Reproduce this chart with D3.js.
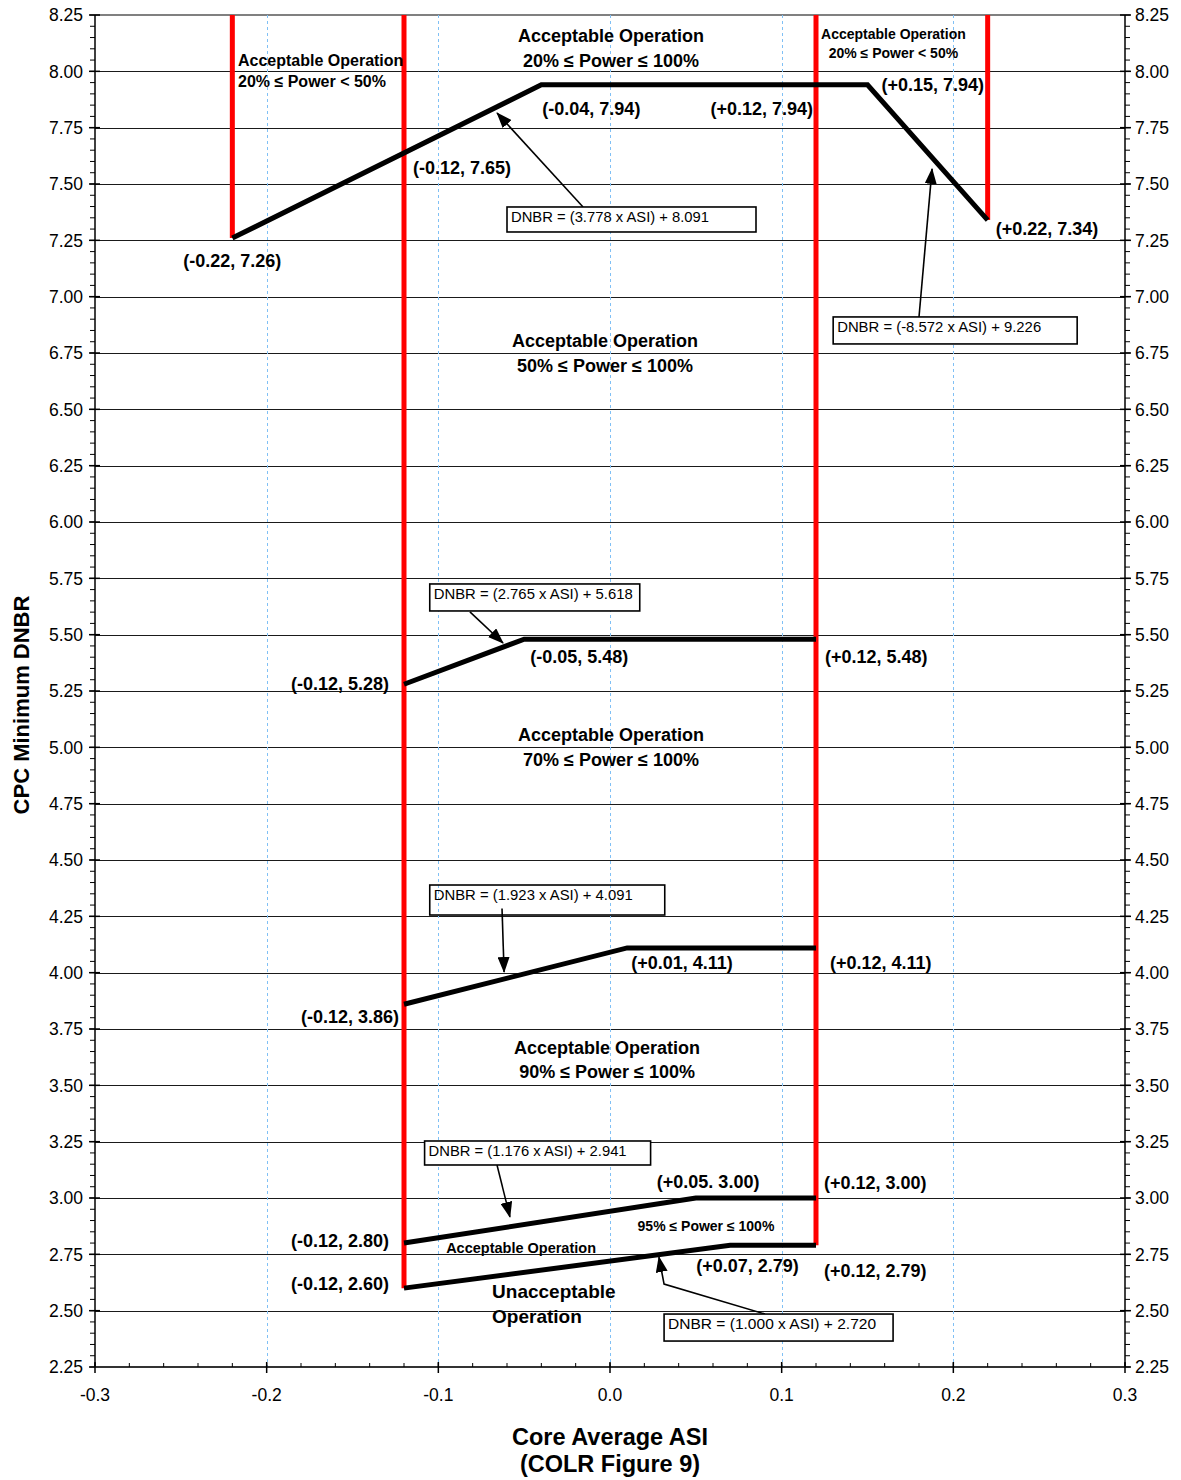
<!DOCTYPE html>
<html><head><meta charset="utf-8">
<script src="https://cdn.jsdelivr.net/npm/d3@7"></script>
<style>
html,body{margin:0;padding:0;background:#fff;}
svg{display:block;font-family:"Liberation Sans",Arial,Helvetica,sans-serif;}
</style></head>
<body><svg id="chart" width="1181" height="1480"></svg>
<script>
// ---------------- DATA ----------------
const asiTicks = [-0.3, -0.2, -0.1, 0.0, 0.1, 0.2, 0.3];
const asiTickLabels = ["-0.3", "-0.2", "-0.1", "0.0", "0.1", "0.2", "0.3"];
const dnbrTicks = [2.25,2.50,2.75,3.00,3.25,3.50,3.75,4.00,4.25,4.50,4.75,5.00,5.25,5.50,5.75,6.00,6.25,6.50,6.75,7.00,7.25,7.50,7.75,8.00,8.25];
const dnbrTickLabels = ["2.25","2.50","2.75","3.00","3.25","3.50","3.75","4.00","4.25","4.50","4.75","5.00","5.25","5.50","5.75","6.00","6.25","6.50","6.75","7.00","7.25","7.50","7.75","8.00","8.25"];

// Limit lines (ASI, DNBR)
const limit20to100 = [[-0.22, 7.26], [-0.04, 7.94], [0.15, 7.94], [0.22, 7.34]];
const limit50to100 = [[-0.12, 5.28], [-0.05, 5.48], [0.12, 5.48]];
const limit70to100 = [[-0.12, 3.86], [0.01, 4.11], [0.12, 4.11]];
const limit90to100 = [[-0.12, 2.80], [0.05, 3.00], [0.12, 3.00]];
const limit95to100 = [[-0.12, 2.60], [0.07, 2.79], [0.12, 2.79]];

// ASI boundaries (ASI, lower DNBR), extended to top of chart
const asiBoundaries = [[-0.22, 7.26], [-0.12, 2.60], [0.12, 2.79], [0.22, 7.34]];

// Point labels
const pointLabelText = ["(-0.22, 7.26)","(-0.12, 7.65)","(-0.04, 7.94)","(+0.12, 7.94)","(+0.15, 7.94)","(+0.22, 7.34)",
  "(-0.12, 5.28)","(-0.05, 5.48)","(+0.12, 5.48)",
  "(-0.12, 3.86)","(+0.01, 4.11)","(+0.12, 4.11)",
  "(+0.05. 3.00)","(+0.12, 3.00)","(-0.12, 2.80)",
  "(+0.07, 2.79)","(+0.12, 2.79)","(-0.12, 2.60)"];
const pointLabelAt = [[-0.22,7.26],[-0.12,7.65],[-0.04,7.94],[0.12,7.94],[0.15,7.94],[0.22,7.34],
  [-0.12,5.28],[-0.05,5.48],[0.12,5.48],
  [-0.12,3.86],[0.01,4.11],[0.12,4.11],
  [0.05,3.00],[0.12,3.00],[-0.12,2.80],
  [0.07,2.79],[0.12,2.79],[-0.12,2.60]];

// Equations
const equationText = ["DNBR = (3.778 x ASI) + 8.091","DNBR = (-8.572 x ASI) + 9.226","DNBR = (2.765 x ASI) + 5.618",
  "DNBR = (1.923 x ASI) + 4.091","DNBR = (1.176 x ASI) + 2.941","DNBR = (1.000 x ASI) + 2.720"];

// Region labels
const regionText = [
  ["Acceptable Operation","20% \u2264 Power \u2264 100%"],
  ["Acceptable Operation","20% \u2264 Power < 50%"],
  ["Acceptable Operation","20% \u2264 Power < 50%"],
  ["Acceptable Operation","50% \u2264 Power \u2264 100%"],
  ["Acceptable Operation","70% \u2264 Power \u2264 100%"],
  ["Acceptable Operation","90% \u2264 Power \u2264 100%"],
  ["95% \u2264 Power \u2264 100%"],
  ["Acceptable Operation"],
  ["Unacceptable","Operation"]
];

const xTitle = ["Core Average ASI", "(COLR Figure 9)"];
const yTitle = "CPC Minimum DNBR";

// ---------------- LAYOUT ----------------
const plot = {left: 95, right: 1125, top: 15, bottom: 1367};
const svg = d3.select("#chart");
const x = d3.scaleLinear().domain([-0.3, 0.3]).range([plot.left, plot.right]);
const y = d3.scaleLinear().domain([2.25, 8.25]).range([plot.bottom, plot.top]);

// label offsets (px) relative to anchor point
const pointLabelLayout = [
  {dx:0,dy:29,a:"middle"},{dx:9,dy:24,a:"start"},{dx:1,dy:30,a:"start"},{dx:-3,dy:30,a:"end"},{dx:14,dy:6,a:"start"},{dx:8,dy:15,a:"start"},
  {dx:-15,dy:6,a:"end"},{dx:6,dy:24,a:"start"},{dx:9,dy:24,a:"start"},
  {dx:-5,dy:19,a:"end"},{dx:4,dy:21,a:"start"},{dx:14,dy:21,a:"start"},
  {dx:-39,dy:-10,a:"start"},{dx:8,dy:-9,a:"start"},{dx:-15,dy:4,a:"end"},
  {dx:-34,dy:27,a:"start"},{dx:8,dy:32,a:"start"},{dx:-15,dy:2,a:"end"}
];
// equation boxes: top-left anchor in data units, sizes in px, arrow path in data units
const equationLayout = [
  {asi:-0.060, dnbr:7.398, w:249, h:25, tl:198, arrow:[[-0.0157,7.398],[-0.0658,7.815]]},
  {asi:0.130, dnbr:6.910, w:244, h:27, tl:204, arrow:[[0.180,6.910],[0.1876,7.567]]},
  {asi:-0.105, dnbr:5.725, w:210, h:27, tl:199, arrow:[[-0.0816,5.601],[-0.0623,5.463]]},
  {asi:-0.105, dnbr:4.389, w:235, h:30, tl:199, arrow:[[-0.0629,4.285],[-0.0617,4.003]]},
  {asi:-0.108, dnbr:3.253, w:226, h:24, tl:198, arrow:[[-0.0658,3.146],[-0.0583,2.916]]},
  {asi:0.0315, dnbr:2.485, w:229, h:27, tl:208, arrow:[[0.0903,2.485],[0.0315,2.618],[0.0285,2.738]]}
];
const regionLayout = [
  {asi:0.0006, dnbr:8.130, a:"middle", size:18, gap:25},
  {asi:-0.2167, dnbr:8.024, a:"start", size:16, gap:21},
  {asi:0.1651, dnbr:8.144, a:"middle", size:14, gap:19},
  {asi:-0.0029, dnbr:6.777, a:"middle", size:18, gap:25},
  {asi:0.0006, dnbr:5.028, a:"middle", size:18, gap:25},
  {asi:-0.0017, dnbr:3.639, a:"middle", size:18, gap:24},
  {asi:0.0559, dnbr:2.854, a:"middle", size:14, gap:0},
  {asi:-0.0518, dnbr:2.756, a:"middle", size:14.5, gap:0},
  {asi:-0.0687, dnbr:2.556, a:"start", size:19, gap:25}
];

// ---------------- DRAW ----------------
// horizontal gridlines
svg.append("g").selectAll("line").data(dnbrTicks.filter(v => v > 2.25 && v < 8.25)).join("line")
  .attr("x1", plot.left).attr("x2", plot.right)
  .attr("y1", d => Math.round(y(d)) + 0.5).attr("y2", d => Math.round(y(d)) + 0.5)
  .attr("stroke", "#1a1a1a").attr("stroke-width", 1);
// top border
svg.append("line").attr("x1", plot.left).attr("x2", plot.right)
  .attr("y1", y(8.25)).attr("y2", y(8.25)).attr("stroke", "#808080").attr("stroke-width", 2);
// vertical dashed gridlines
svg.append("g").selectAll("line").data(asiTicks.filter(v => Math.abs(v) < 0.29)).join("line")
  .attr("x1", d => Math.round(x(d)) + 0.5).attr("x2", d => Math.round(x(d)) + 0.5)
  .attr("y1", plot.top).attr("y2", plot.bottom)
  .attr("stroke", "#80c0f5").attr("stroke-width", 1).attr("stroke-dasharray", "3,3");

// axes
const minorY = d3.range(2.25, 8.2501, 0.05);
const minorX = d3.range(-0.3, 0.3001, 0.02);
const axG = svg.append("g").attr("stroke", "#000");
// left axis
axG.append("line").attr("x1", plot.left).attr("x2", plot.left).attr("y1", plot.top).attr("y2", plot.bottom).attr("stroke-width", 1.5);
axG.selectAll(".lmin").data(minorY).join("line").attr("x1", plot.left - 5).attr("x2", plot.left)
  .attr("y1", d => y(d)).attr("y2", d => y(d)).attr("stroke-width", 1);
axG.selectAll(".lmaj").data(dnbrTicks).join("line").attr("x1", plot.left - 6).attr("x2", plot.left + 5)
  .attr("y1", d => y(d)).attr("y2", d => y(d)).attr("stroke-width", 1.5);
// right axis
axG.append("line").attr("x1", plot.right).attr("x2", plot.right).attr("y1", plot.top).attr("y2", plot.bottom).attr("stroke-width", 1.5);
axG.selectAll(".rmin").data(minorY).join("line").attr("x1", plot.right).attr("x2", plot.right + 5)
  .attr("y1", d => y(d)).attr("y2", d => y(d)).attr("stroke-width", 1);
axG.selectAll(".rmaj").data(dnbrTicks).join("line").attr("x1", plot.right - 5).attr("x2", plot.right + 6)
  .attr("y1", d => y(d)).attr("y2", d => y(d)).attr("stroke-width", 1.5);
// bottom axis
axG.append("line").attr("x1", plot.left).attr("x2", plot.right).attr("y1", plot.bottom).attr("y2", plot.bottom).attr("stroke", "#333").attr("stroke-width", 2);
axG.selectAll(".bmin").data(minorX).join("line").attr("x1", d => x(d)).attr("x2", d => x(d))
  .attr("y1", plot.bottom - 4).attr("y2", plot.bottom).attr("stroke-width", 1);
axG.selectAll(".bmaj").data(asiTicks).join("line").attr("x1", d => x(d)).attr("x2", d => x(d))
  .attr("y1", plot.bottom - 5).attr("y2", plot.bottom + 6).attr("stroke-width", 1.5);

// tick labels
svg.append("g").selectAll("text").data(dnbrTicks).join("text")
  .attr("x", plot.left - 12).attr("y", d => y(d)).attr("dy", "0.36em")
  .attr("text-anchor", "end").attr("font-size", 17.5).attr("fill", "#000")
  .text((d, i) => dnbrTickLabels[i]);
svg.append("g").selectAll("text").data(dnbrTicks).join("text")
  .attr("x", plot.right + 10).attr("y", d => y(d)).attr("dy", "0.36em")
  .attr("text-anchor", "start").attr("font-size", 17.5).attr("fill", "#000")
  .text((d, i) => dnbrTickLabels[i]);
svg.append("g").selectAll("text").data(asiTicks).join("text")
  .attr("x", d => x(d)).attr("y", plot.bottom + 34)
  .attr("text-anchor", "middle").attr("font-size", 17.5).attr("fill", "#000")
  .text((d, i) => asiTickLabels[i]);

// axis titles
svg.append("g").selectAll("text").data(xTitle).join("text")
  .attr("x", x(0)).attr("y", (d, i) => 1445 + i * 27)
  .attr("text-anchor", "middle").attr("font-size", 23.5).attr("font-weight", "bold")
  .text(d => d);
svg.append("text").attr("transform", `translate(29,${705}) rotate(-90)`)
  .attr("text-anchor", "middle").attr("font-size", 22).attr("font-weight", "bold")
  .text(yTitle);

// red ASI boundaries
svg.append("g").selectAll("line").data(asiBoundaries).join("line")
  .attr("x1", d => x(d[0])).attr("x2", d => x(d[0]))
  .attr("y1", d => y(d[1])).attr("y2", y(8.25))
  .attr("stroke", "#ff0000").attr("stroke-width", 5);

// limit lines
const line = d3.line().x(d => x(d[0])).y(d => y(d[1]));
svg.append("g").selectAll("path").data([limit20to100, limit50to100, limit70to100, limit90to100, limit95to100]).join("path")
  .attr("d", line).attr("fill", "none").attr("stroke", "#000").attr("stroke-width", 5)
  .attr("stroke-linejoin", "miter");

// point labels
svg.append("g").selectAll("text").data(pointLabelText).join("text")
  .attr("x", (d, i) => x(pointLabelAt[i][0]) + pointLabelLayout[i].dx)
  .attr("y", (d, i) => y(pointLabelAt[i][1]) + pointLabelLayout[i].dy)
  .attr("text-anchor", (d, i) => pointLabelLayout[i].a)
  .attr("font-size", 18).attr("font-weight", "bold").attr("fill", "#000")
  .text(d => d);

// region labels
regionText.forEach((lines, i) => {
  const L = regionLayout[i];
  const t = svg.append("text").attr("text-anchor", L.a).attr("font-size", L.size).attr("font-weight", "bold");
  lines.forEach((s, j) => {
    t.append("tspan").attr("x", x(L.asi)).attr("y", y(L.dnbr) + j * L.gap).text(s);
  });
});

// arrow marker
svg.append("defs").append("marker").attr("id", "ah").attr("markerUnits", "userSpaceOnUse")
  .attr("viewBox", "0 0 16 12").attr("refX", 15).attr("refY", 6)
  .attr("markerWidth", 16).attr("markerHeight", 12).attr("orient", "auto")
  .append("path").attr("d", "M0,0 L16,6 L0,12 Z").attr("fill", "#000");

// equation boxes with arrows
const arrowLine = d3.line().x(d => x(d[0])).y(d => y(d[1]));
equationText.forEach((s, i) => {
  const L = equationLayout[i];
  svg.append("path").attr("d", arrowLine(L.arrow)).attr("fill", "none")
    .attr("stroke", "#000").attr("stroke-width", 1.6).attr("marker-end", "url(#ah)");
  const bx = x(L.asi), by = y(L.dnbr);
  svg.append("rect").attr("x", bx).attr("y", by).attr("width", L.w).attr("height", L.h)
    .attr("fill", i === 3 ? "none" : "#fff").attr("stroke", "#000").attr("stroke-width", 1.6);
  svg.append("text").attr("x", bx + 4).attr("y", by + 15).attr("font-size", 15.5)
    .attr("textLength", L.tl).attr("lengthAdjust", "spacingAndGlyphs").text(s);
});
</script></body></html>
